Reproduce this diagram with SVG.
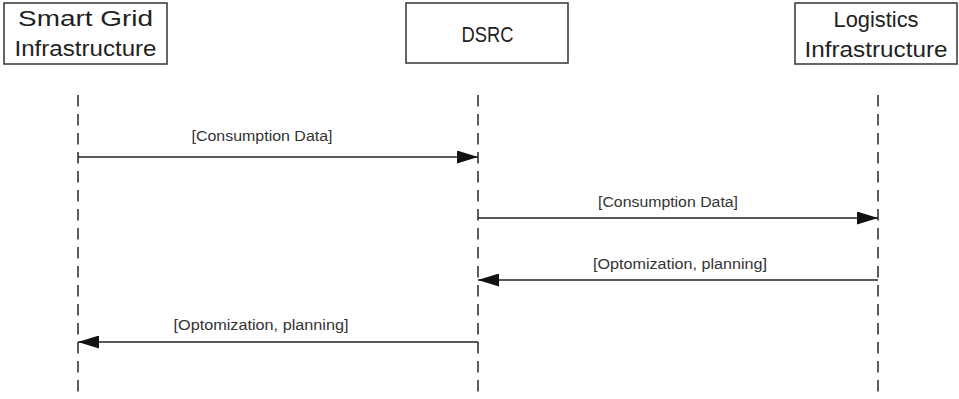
<svg xmlns="http://www.w3.org/2000/svg" width="959" height="399" viewBox="0 0 959 399">
<style>
.box{fill:#fff;stroke:#333;stroke-width:1.5}
.title{font-family:"Liberation Sans",Arial,sans-serif;font-size:22px;fill:#222;text-anchor:middle}
.life{stroke:#333;stroke-width:1.6;stroke-dasharray:11.5,7.5;fill:none}
.msg{stroke:#222;stroke-width:1.6;fill:none}
.lbl{font-family:"Liberation Sans",Arial,sans-serif;font-size:14px;fill:#333;text-anchor:middle}
</style>
<defs>
<marker id="ah" viewBox="0 0 21 13" refX="21" refY="6.5" markerWidth="21" markerHeight="13" markerUnits="userSpaceOnUse" orient="auto">
<path d="M0,0 L21,6.5 L0,13 Z" fill="#111"/>
</marker>
</defs>
<rect width="959" height="399" fill="#fff"/>
<g id="smartgrid">
<rect class="box" x="4" y="3" width="163" height="61"/>
<text class="title" x="85.5" y="26" textLength="135" lengthAdjust="spacingAndGlyphs">Smart Grid</text>
<text class="title" x="85.5" y="56" textLength="142" lengthAdjust="spacingAndGlyphs">Infrastructure</text>
</g>
<g id="dsrc">
<rect class="box" x="406" y="3" width="162" height="60"/>
<text class="title" x="487.5" y="42" textLength="52" lengthAdjust="spacingAndGlyphs">DSRC</text>
</g>
<g id="logistics">
<rect class="box" x="795" y="3" width="162" height="61"/>
<text class="title" x="876" y="27" textLength="85" lengthAdjust="spacingAndGlyphs">Logistics</text>
<text class="title" x="876" y="57" textLength="143" lengthAdjust="spacingAndGlyphs">Infrastructure</text>
</g>
<g id="connectors">
<line class="life" x1="78" y1="95" x2="78" y2="399"/>
<line class="life" x1="478" y1="95" x2="478" y2="399"/>
<line class="life" x1="878" y1="95" x2="878" y2="399"/>
<line class="msg" x1="78" y1="157" x2="478" y2="157" marker-end="url(#ah)"/>
<text class="lbl" x="262" y="141" textLength="141" lengthAdjust="spacingAndGlyphs">[Consumption Data]</text>
<line class="msg" x1="478" y1="218" x2="878" y2="218" marker-end="url(#ah)"/>
<text class="lbl" x="668" y="207" textLength="140" lengthAdjust="spacingAndGlyphs">[Consumption Data]</text>
<line class="msg" x1="878" y1="280" x2="478" y2="280" marker-end="url(#ah)"/>
<text class="lbl" x="680" y="269" textLength="174" lengthAdjust="spacingAndGlyphs">[Optomization, planning]</text>
<line class="msg" x1="478" y1="342" x2="78" y2="342" marker-end="url(#ah)"/>
<text class="lbl" x="261" y="330" textLength="175" lengthAdjust="spacingAndGlyphs">[Optomization, planning]</text>
</g>
</svg>
